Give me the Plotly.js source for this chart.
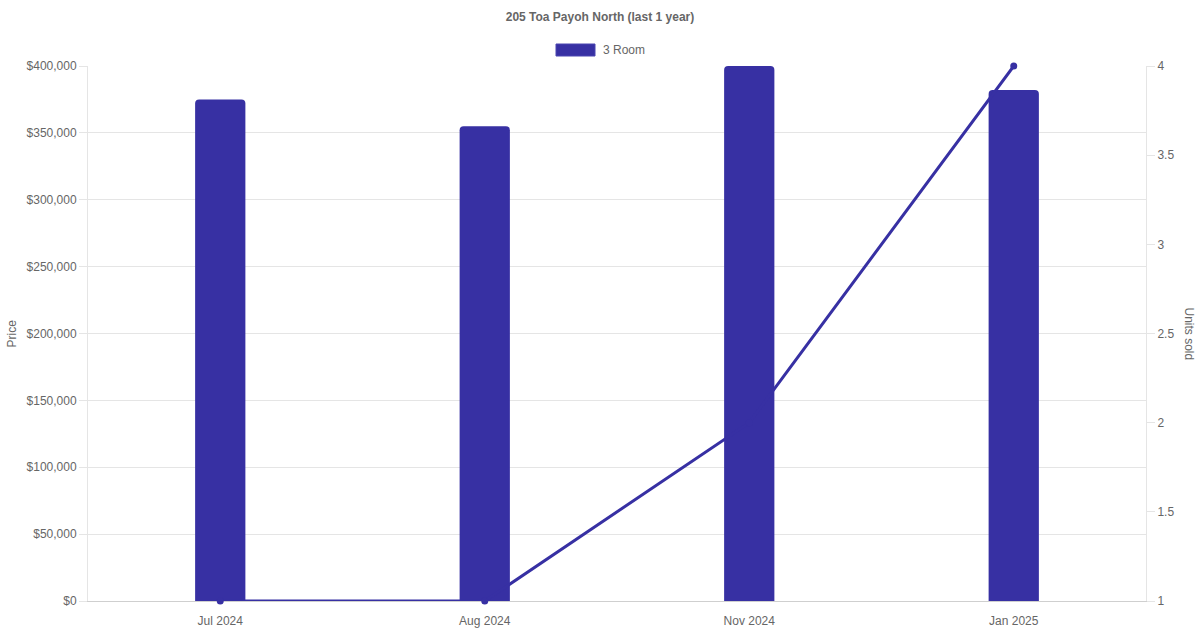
<!DOCTYPE html>
<html>
<head>
<meta charset="utf-8">
<script src="https://cdn.plot.ly/plotly-3.0.1.min.js"></script>
<style>
	html, body { margin: 0; padding: 0; background: #fff; }
	#chart { width: 1200px; height: 630px; }
</style>
</head>
<body>
<div id="chart"></div>
<script>
// --- DATA ---
const months = ['Jul 2024', 'Aug 2024', 'Nov 2024', 'Jan 2025'];
const prices = [375000, 355000, 400000, 382000];
const unitsSold = [1, 1, 2, 4];
const seriesName = '3 Room';

const INDIGO = '#3730a3';
const TXT = '#666';
const GRID = '#e5e5e5';
const FONT = '"Liberation Sans", Arial, sans-serif';

const traces = [
	{
		x: months,
		y: prices,
		name: seriesName,
		type: 'bar',
		width: 0.19,
		marker: { color: INDIGO, cornerradius: 4 },
		hovertemplate: '%{x}: $%{y:,}<extra></extra>'
	},
	{
		x: months,
		y: unitsSold,
		name: 'Units sold',
		yaxis: 'y2',
		type: 'scatter',
		mode: 'lines+markers',
		cliponaxis: false,
		line: { color: INDIGO, width: 3 },
		marker: { color: INDIGO, size: 7 }
	}
];

const layout = {
	width: 1200,
	height: 630,
	margin: { l: 88, r: 54, t: 66, b: 29 },
	paper_bgcolor: '#fff',
	plot_bgcolor: '#fff',
	showlegend: false,
	font: { family: FONT, size: 12, color: TXT },
	title: {
		text: '<b>205 Toa Payoh North (last 1 year)</b>',
		font: { family: FONT, size: 12, color: TXT },
		x: 0.5, xanchor: 'center',
		y: 1 - 17 / 630, yref: 'container', yanchor: 'middle'
	},
	xaxis: {
		type: 'category',
		range: [-0.5, 3.5],
		showgrid: false,
		showline: true,
		linecolor: '#cfcfcf',
		linewidth: 1,
		layer: 'below traces',
		ticks: '',
		ticklabelstandoff: 9,
		tickfont: { family: FONT, size: 12, color: TXT },
		automargin: false,
		fixedrange: true
	},
	yaxis: {
		range: [0, 400000],
		dtick: 50000,
		tickprefix: '$',
		tickformat: ',d',
		showgrid: true,
		gridcolor: GRID,
		zeroline: false,
		showline: true,
		linecolor: GRID,
		layer: 'below traces',
		ticks: 'outside',
		ticklen: 8,
		tickcolor: GRID,
		tickfont: { family: FONT, size: 12, color: TXT },
		automargin: false
	},
	yaxis2: {
		overlaying: 'y',
		side: 'right',
		range: [1, 4],
		dtick: 0.5,
		showgrid: false,
		zeroline: false,
		showline: true,
		linecolor: GRID,
		layer: 'below traces',
		ticks: 'outside',
		ticklen: 8,
		tickcolor: GRID,
		tickfont: { family: FONT, size: 12, color: TXT },
		automargin: false
	},
	shapes: [
		// legend swatch
		{
			type: 'rect', xref: 'paper', yref: 'paper',
			x0: (556 - 88) / 1058, x1: (595 - 88) / 1058,
			y0: (601 - 56) / 535, y1: (601 - 44) / 535,
			fillcolor: INDIGO, line: { color: '#4a44b0', width: 1 }
		}
	],
	annotations: [
		{
			text: seriesName, xref: 'paper', yref: 'paper',
			x: (601 - 88) / 1058, y: (601 - 50) / 535,
			xanchor: 'left', yanchor: 'middle', showarrow: false,
			font: { family: FONT, size: 12, color: TXT }
		},
		{
			text: 'Price', xref: 'paper', yref: 'paper',
			x: (11 - 88) / 1058, y: 0.5, textangle: -90,
			xanchor: 'center', yanchor: 'middle', showarrow: false,
			font: { family: FONT, size: 12, color: TXT }
		},
		{
			text: 'Units sold', xref: 'paper', yref: 'paper',
			x: (1189 - 88) / 1058, y: 0.5, textangle: 90,
			xanchor: 'center', yanchor: 'middle', showarrow: false,
			font: { family: FONT, size: 12, color: TXT }
		}
	]
};

Plotly.newPlot('chart', traces, layout, { displayModeBar: false, staticPlot: true });
</script>
</body>
</html>
